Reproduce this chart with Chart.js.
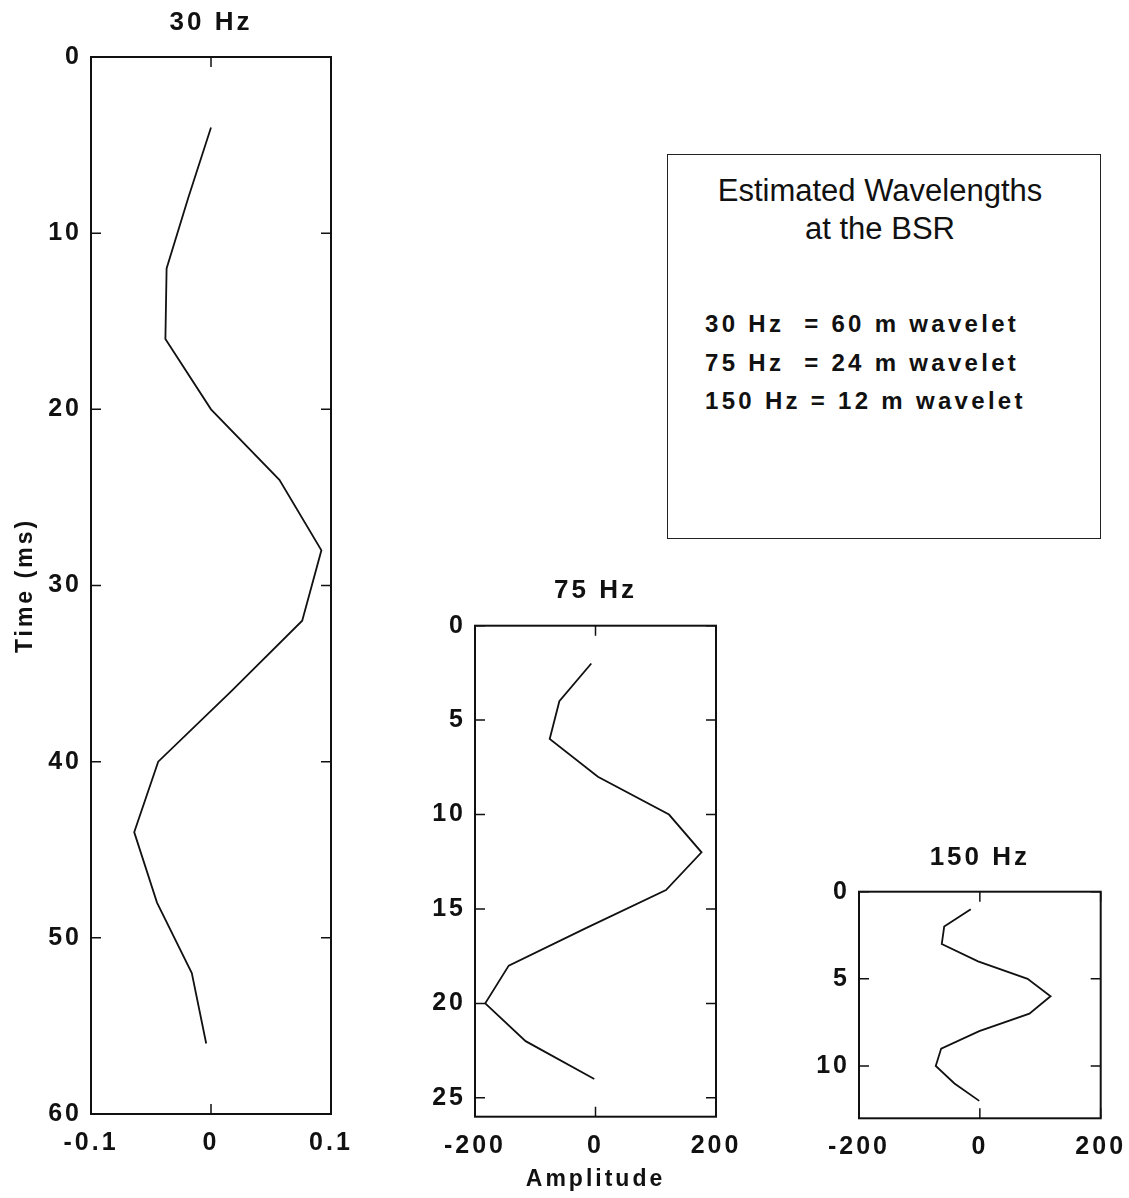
<!DOCTYPE html>
<html>
<head>
<meta charset="utf-8">
<script src="https://cdn.jsdelivr.net/npm/chart.js@4.4.1/dist/chart.umd.min.js"></script>
<style>
html,body{margin:0;padding:0;background:#fff;overflow:hidden;}
#page{position:relative;width:1129px;height:1198px;overflow:hidden;background:#fff;font-family:"Liberation Sans",Arial,Helvetica,sans-serif;color:#111;}
canvas{position:absolute;}
#note{position:absolute;left:667px;top:154px;width:432px;height:383px;border:1.5px solid #222;}
#note .h{position:absolute;left:0;right:8px;text-align:center;font-size:31px;line-height:38px;}
#note .b{position:absolute;left:37px;font-size:24px;font-weight:bold;line-height:38px;letter-spacing:3.3px;white-space:pre;}
</style>
</head>
<body>
<div id="page">
  <canvas id="c30" width="380" height="1198" style="left:0px;top:0px;width:380px;height:1198px"></canvas>
  <canvas id="c75" width="360" height="638" style="left:400px;top:560px;width:360px;height:638px"></canvas>
  <canvas id="c150" width="380" height="368" style="left:780px;top:830px;width:380px;height:368px"></canvas>
  <div id="note">
    <div class="h" style="top:17px">Estimated Wavelengths</div>
    <div class="h" style="top:55px">at the BSR</div>
    <div class="b" style="top:150px">30 Hz  = 60 m wavelet</div>
    <div class="b" style="top:188.5px">75 Hz  = 24 m wavelet</div>
    <div class="b" style="top:227px">150 Hz = 12 m wavelet</div>
  </div>
</div>
<script>
// ---- data ----
const time30 = [4, 8, 12, 16, 20, 24, 28, 32, 36, 40, 44, 48, 52, 56];
const amp30  = [0, -0.019, -0.037, -0.038, 0, 0.057, 0.092, 0.076, 0.017, -0.044, -0.064, -0.045, -0.016, -0.004];

const time75 = [2, 4, 6, 8, 10, 12, 14, 16, 18, 20, 22, 24];
const amp75  = [-7, -60, -76, 4, 122, 176, 117, -15, -144, -183, -116, -2];

const time150 = [1, 2, 3, 4, 5, 6, 7, 8, 9, 10, 11, 12];
const amp150  = [-15, -59, -63, -3, 79, 117, 82, -1, -64, -73, -42, -1];

const xTicks30 = [-0.1, 0, 0.1];
const yTicks30 = [0, 10, 20, 30, 40, 50, 60];
const xTicks75 = [-200, 0, 200];
const yTicks75 = [0, 5, 10, 15, 20, 25];
const xTicks150 = [-200, 0, 200];
const yTicks150 = [0, 5, 10];

const titles = ['30 Hz', '75 Hz', '150 Hz'];
const yAxisTitle = 'Time (ms)';
const xAxisTitle = 'Amplitude';

// ---- drawing ----
const FONT = '"Liberation Sans", Arial, Helvetica, sans-serif';
const INK = '#111';

const framePlugin = {
  id: 'frame',
  beforeDraw(chart) { chart.ctx.letterSpacing = '3px'; },
  afterDatasetsDraw(chart) {
    const {ctx, chartArea: a, scales: {x, y}} = chart;
    ctx.save();
    ctx.letterSpacing = '0px';
    ctx.strokeStyle = INK;
    ctx.lineWidth = 2;
    ctx.strokeRect(a.left, a.top, a.right - a.left, a.bottom - a.top);
    ctx.lineWidth = 1.5;
    const L = 10;
    ctx.beginPath();
    y.ticks.forEach(t => {
      const py = y.getPixelForValue(t.value);
      ctx.moveTo(a.left, py); ctx.lineTo(a.left + L, py);
      ctx.moveTo(a.right, py); ctx.lineTo(a.right - L, py);
    });
    x.ticks.forEach(t => {
      const px = x.getPixelForValue(t.value);
      ctx.moveTo(px, a.bottom); ctx.lineTo(px, a.bottom - L);
      ctx.moveTo(px, a.top); ctx.lineTo(px, a.top + L);
    });
    ctx.stroke();
    ctx.restore();
  }
};

function panel(id, times, amps, xTickVals, yTickVals, xMin, xMax, yMax, title, geo) {
  return new Chart(document.getElementById(id), {
    type: 'scatter',
    data: {
      datasets: [{
        data: times.map((t, i) => ({x: amps[i], y: t})),
        showLine: true,
        borderColor: INK,
        borderWidth: 1.8,
        pointRadius: 0,
        pointHoverRadius: 0,
        fill: false,
        tension: 0
      }]
    },
    options: {
      responsive: false,
      animation: false,
      devicePixelRatio: 1,
      events: [],
      layout: {padding: {left: 0, top: 0, right: geo.padRight, bottom: 0}},
      plugins: {
        legend: {display: false},
        tooltip: {enabled: false},
        title: {
          display: true, text: title, fullSize: false, color: INK,
          font: {family: FONT, size: 26, weight: 'bold', lineHeight: 1.2},
          padding: {top: geo.tpt, bottom: geo.tpb}
        }
      },
      scales: {
        x: {
          type: 'linear', position: 'bottom', min: xMin, max: xMax,
          grid: {display: false, drawTicks: false},
          border: {display: false},
          afterBuildTicks: s => { s.ticks = xTickVals.map(v => ({value: v})); },
          afterFit: s => { s.height = geo.xHeight; },
          ticks: {
            autoSkip: false, maxRotation: 0, minRotation: 0, padding: 14, color: INK,
            font: {family: FONT, size: 25, weight: 'bold', lineHeight: 1.2},
            callback: v => String(v)
          },
          title: geo.xTitle ? {
            display: true, text: xAxisTitle, color: INK,
            font: {family: FONT, size: 23, weight: 'bold', lineHeight: 1.2},
            padding: {top: 0, bottom: geo.xTitlePad}
          } : {display: false}
        },
        y: {
          type: 'linear', position: 'left', reverse: true, min: 0, max: yMax,
          grid: {display: false, drawTicks: false},
          border: {display: false},
          afterBuildTicks: s => { s.ticks = yTickVals.map(v => ({value: v})); },
          afterFit: s => { s.width = geo.yWidth; },
          ticks: {
            autoSkip: false, padding: 9, color: INK,
            font: {family: FONT, size: 25, weight: 'bold', lineHeight: 1.2},
            callback: v => String(v)
          },
          title: geo.yTitle ? {
            display: true, text: yAxisTitle, color: INK,
            font: {family: FONT, size: 23, weight: 'bold', lineHeight: 1.2},
            padding: {top: geo.yTitlePad, bottom: 0}
          } : {display: false}
        }
      }
    },
    plugins: [framePlugin]
  });
}

panel('c30', time30, amp30, xTicks30, yTicks30, -0.1, 0.1, 60, titles[0],
  {yWidth: 91, xHeight: 84, padRight: 49, tpt: 7.4, tpb: 18.4, yTitle: true, yTitlePad: 12.2});
panel('c75', time75, amp75, xTicks75, yTicks75, -200, 200, 26, titles[1],
  {yWidth: 75, xHeight: 81.3, padRight: 44, tpt: 14.9, tpb: 19.6, xTitle: true, xTitlePad: 4.7});
panel('c150', time150, amp150, xTicks150, yTicks150, -200, 200, 13, titles[2],
  {yWidth: 79, xHeight: 79.7, padRight: 59.3, tpt: 11.9, tpb: 18.6});
</script>
</body>
</html>
